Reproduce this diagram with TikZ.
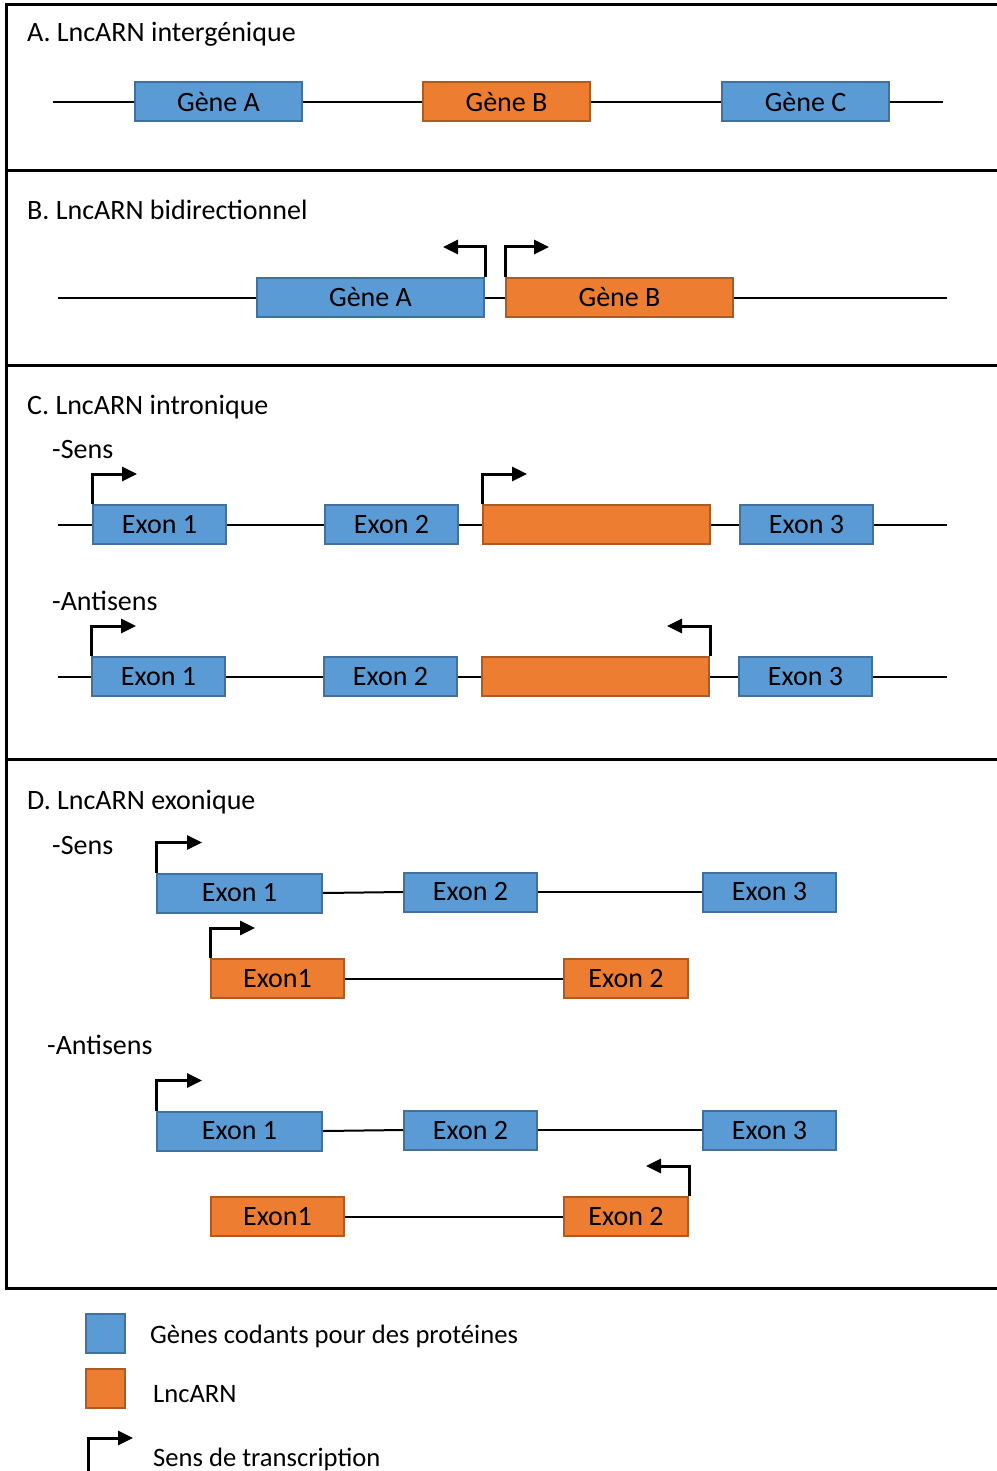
\documentclass[tikz,border=0pt]{standalone}
\usepackage{fontspec}
\setmainfont{Carlito}
\usepackage{tikz}
\usetikzlibrary{arrows.meta, positioning, calc}
\definecolor{genefill}{RGB}{91,155,213}
\definecolor{genedraw}{RGB}{65,113,156}
\definecolor{lncfill}{RGB}{237,125,49}
\definecolor{lncdraw}{RGB}{174,90,33}
\tikzset{
  gene/.style={rectangle, draw=genedraw, fill=genefill, line width=2pt,
    minimum width=133pt, minimum height=39pt, inner sep=0pt, font=\fontsize{28}{32}\selectfont},
  lnc/.style={rectangle, draw=lncdraw, fill=lncfill, line width=2pt,
    minimum width=133pt, minimum height=39pt, inner sep=0pt, font=\fontsize{28}{32}\selectfont},
  title/.style={anchor=base west, inner sep=0pt, font=\fontsize{28}{32}\selectfont},
  keytext/.style={anchor=base west, inner sep=0pt, font=\fontsize{26.6}{30}\selectfont},
  frame/.style={line width=3pt, black},
  dna/.style={line width=2pt, black},
  promo/.style={-{Triangle[length=15pt,width=14pt]}, line width=3pt, black},
}
\begin{document}
\begin{tikzpicture}[x=1pt, y=-1pt]
  \useasboundingbox (0,0) rectangle (996,1471);
  \draw[frame] (998,5) -- (6,5) -- (6,1288) -- (998,1288);
  \draw[frame] (6,171) -- (998,171);
  \draw[frame] (6,365) -- (998,365);
  \draw[frame] (6,759) -- (998,759);

  % A
  \node[title] (tA) at (27,42) {A. LncARN intergénique};
  \coordinate (a0) at (53,102);
  \coordinate (a9) at (943,102);
  \node[gene, minimum width=167pt] (aga) at (218.5,102) {Gène A};
  \node[lnc, minimum width=167pt] (agb) at (506.5,102) {Gène B};
  \node[gene, minimum width=167pt] (agc) at (805.5,102) {Gène C};
  \draw[dna] (a0) -- (aga) -- (agb) -- (agc) -- (a9);

  % B
  \node[title] (tB) at (27,220) {B. LncARN bidirectionnel};
  \coordinate (b0) at (58,297.5);
  \coordinate (b9) at (947,297.5);
  \node[gene, minimum width=227pt] (bga) at (370.5,297.5) {Gène A};
  \node[lnc, minimum width=227pt] (bgb) at (619.5,297.5) {Gène B};
  \draw[dna] (b0) -- (bga) -- (bgb) -- (b9);
  \draw[promo] (bga.north east) -- ++(0,-30) -- ++(-42,0);
  \draw[promo] (bgb.north west) -- ++(0,-30) -- ++(44,0);

  % C
  \node[title] (tC) at (27,414) {C. LncARN intronique};
  \node[title] (tCs) at (52,458) {-Sens};
  \coordinate (cs0) at (58,524.5);
  \coordinate (cs9) at (947,524.5);
  \node[gene] (cse1) at (159.5,524.5) {Exon 1};
  \node[gene] (cse2) at (391.5,524.5) {Exon 2};
  \node[lnc, minimum width=227pt] (csl) at (596.5,524.5) {};
  \node[gene] (cse3) at (806.5,524.5) {Exon 3};
  \draw[dna] (cs0) -- (cse1) -- (cse2) -- (csl) -- (cse3) -- (cs9);
  \draw[promo] (cse1.north west) -- ++(0,-30) -- ++(45,0);
  \draw[promo] (csl.north west) -- ++(0,-30) -- ++(45,0);

  \node[title] (tCa) at (52,610) {-Antisens};
  \coordinate (ca0) at (58,676.5);
  \coordinate (ca9) at (947,676.5);
  \node[gene] (cae1) at (158.5,676.5) {Exon 1};
  \node[gene] (cae2) at (390.5,676.5) {Exon 2};
  \node[lnc, minimum width=227pt] (cal) at (595.5,676.5) {};
  \node[gene] (cae3) at (805.5,676.5) {Exon 3};
  \draw[dna] (ca0) -- (cae1) -- (cae2) -- (cal) -- (cae3) -- (ca9);
  \draw[promo] (cae1.north west) -- ++(0,-30) -- ++(45,0);
  \draw[promo] (cal.north east) -- ++(0,-30) -- ++(-43,0);

  % D
  \node[title] (tD) at (27,809) {D. LncARN exonique};
  \node[title] (tDs) at (52,854) {-Sens};
  \node[gene, minimum width=165pt] (dse1) at (239.5,893) {Exon 1};
  \node[gene] (dse2) at (470.5,892) {Exon 2};
  \node[gene] (dse3) at (769.5,892) {Exon 3};
  \draw[dna] (dse1.east) -- (dse2.west);
  \draw[dna] (dse2) -- (dse3);
  \draw[promo] (dse1.north west) -- ++(0,-30) -- ++(46,0);
  \node[lnc] (dsl1) at (277.5,978.5) {Exon1};
  \node[lnc, minimum width=124pt] (dsl2) at (626,978.5) {Exon 2};
  \draw[dna] (dsl1) -- (dsl2);
  \draw[promo] (dsl1.north west) -- ++(0,-30) -- ++(45,0);

  \node[title] (tDa) at (47,1054) {-Antisens};
  \node[gene, minimum width=165pt] (dae1) at (239.5,1131) {Exon 1};
  \node[gene] (dae2) at (470.5,1130) {Exon 2};
  \node[gene] (dae3) at (769.5,1130) {Exon 3};
  \draw[dna] (dae1.east) -- (dae2.west);
  \draw[dna] (dae2) -- (dae3);
  \draw[promo] (dae1.north west) -- ++(0,-30) -- ++(46,0);
  \node[lnc] (dal1) at (277.5,1216.5) {Exon1};
  \node[lnc, minimum width=124pt] (dal2) at (626,1216.5) {Exon 2};
  \draw[dna] (dal1) -- (dal2);
  \draw[promo] (dal2.north east) -- ++(0,-30) -- ++(-43,0);

  % legend
  \node[gene, minimum width=39pt] (kgene) at (105.5,1333.5) {};
  \node[keytext] (kgenet) at (150,1343) {Gènes codants pour des protéines};
  \node[lnc, minimum width=39pt] (klnc) at (105.5,1388.5) {};
  \node[keytext] (klnct) at (153,1402) {LncARN};
  \coordinate (kpro) at (88,1471);
  \draw[promo] (kpro) -- ++(0,-33) -- ++(45,0);
  \node[keytext] (kprot) at (153,1466) {Sens de transcription};
\end{tikzpicture}
\end{document}
